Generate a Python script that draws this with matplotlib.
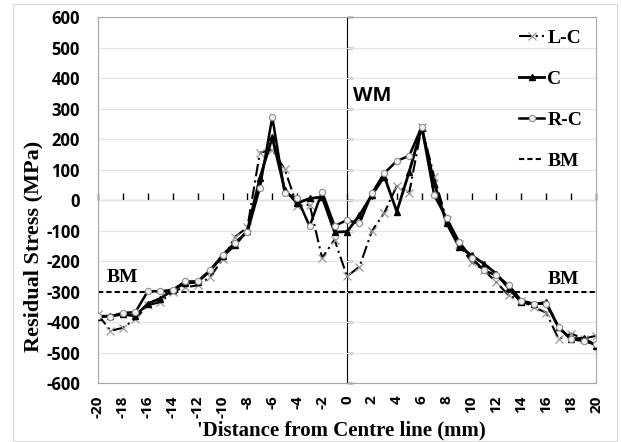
import matplotlib
matplotlib.use("Agg")
import matplotlib.pyplot as plt
from matplotlib.patches import Rectangle

# --- Data ---
distance = [-20, -19, -18, -17, -16, -15, -14, -13, -12, -11, -10, -9, -8, -7, -6, -5, -4, -3, -2, -1,
            0, 1, 2, 3, 4, 5, 6, 7, 8, 9, 10, 11, 12, 13, 14, 15, 16, 17, 18, 19, 20]

stress_lc = [-375, -429, -419, -390, -345, -335, -300, -286, -280, -253, -195, -121, -90, 155, 165, 101,
             -20, -15, -190, -130, -250, -219, -102, -42, 46, 24, 240, 77, -65, -145, -203, -230, -270,
             -313, -330, -352, -369, -456, -438, -455, -445]
stress_c = [-383, -380, -375, -380, -340, -323, -295, -272, -270, -231, -185, -148, -100, 72, 205, 33,
            -10, 5, 10, -105, -104, -50, 16, 77, -38, 93, 237, 56, -76, -153, -181, -209, -242,
            -290, -335, -341, -336, -418, -456, -453, -478]
stress_rc = [-380, -382, -370, -368, -299, -299, -295, -267, -267, -231, -181, -140, -105, 40, 272, 22,
             6, -86, 27, -85, -66, -77, 22, 88, 128, 145, 240, 16, -60, -137, -190, -231, -247,
             -280, -330, -340, -340, -418, -456, -462, -473]
bm_level = -300

x_ticks = [-20, -18, -16, -14, -12, -10, -8, -6, -4, -2, 0, 2, 4, 6, 8, 10, 12, 14, 16, 18, 20]
y_ticks = [-600, -500, -400, -300, -200, -100, 0, 100, 200, 300, 400, 500, 600]

SERIF = "Liberation Serif"
SANS = "Open Sans"

plt.rcParams["axes.unicode_minus"] = False

fig = plt.figure(figsize=(6.21, 4.42), dpi=100)
ax = fig.add_axes([98 / 621, 1 - 383 / 442, 498 / 621, 366 / 442])

# chart area border
fig.patches.append(Rectangle((13 / 621, 1 / 442), 604 / 621, 437 / 442, transform=fig.transFigure,
                             fill=False, edgecolor="#d9d9d9", linewidth=0.8))

ax.plot(distance, stress_lc, color="black", linewidth=1.5, dashes=(6, 2, 1, 2),
        marker="x", markersize=6, markeredgecolor="#9a9a9a", markeredgewidth=0.9,
        label="L-C", zorder=3)
ax.plot(distance, stress_c, color="black", linewidth=2.0,
        marker="^", markersize=5, markerfacecolor="black", markeredgecolor="black",
        label="C", zorder=4)
ax.plot(distance, stress_rc, color="black", linewidth=1.8,
        marker="o", markersize=4.5, markerfacecolor="#f2f2f2", markeredgecolor="#8c8c8c",
        markeredgewidth=0.8, label="R-C", zorder=5)
ax.axhline(bm_level, color="black", linewidth=1.5, dashes=(2.5, 1.5), label="BM", zorder=2)

ax.set_xlim(-20, 20)
ax.set_ylim(-600, 600)

# frame + labels on the outer box
for sp in ax.spines.values():
    sp.set_color("#a6a6a6")
    sp.set_linewidth(0.8)
ax.set_xticks(x_ticks)
ax.set_yticks(y_ticks)
ax.tick_params(axis="both", length=0)
ax.tick_params(axis="y", pad=13)
ax.tick_params(axis="x", pad=9, labelrotation=90)
for lab in ax.get_yticklabels():
    lab.set_fontfamily(SANS)
    lab.set_fontweight("bold")
    lab.set_fontsize(12)
for lab in ax.get_xticklabels():
    lab.set_fontfamily(SANS)
    lab.set_fontweight("bold")
    lab.set_fontsize(11)
ax.yaxis.grid(True, color="#e3e3e3", linewidth=0.8)
ax.set_axisbelow(True)

# axis lines crossing at the origin, with tick marks
sx = ax.secondary_xaxis(0.5)
sx.set_xticks(x_ticks)
sx.tick_params(direction="out", length=5, width=1, labelbottom=False, labeltop=False)
sx.spines["bottom"].set_color("black")
sx.spines["bottom"].set_linewidth(1)
sy = ax.secondary_yaxis(0.5)
sy.set_yticks(y_ticks)
sy.tick_params(direction="out", length=4, width=1, labelleft=False, labelright=False)
sy.spines["left"].set_color("black")
sy.spines["left"].set_linewidth(1)

ax.set_xlabel("'Distance from Centre line (mm)", fontfamily=SERIF, fontweight="bold", fontsize=15,
              va="center")
ax.xaxis.set_label_coords(0.489, -0.131)
ax.set_ylabel("Residual Stress (MPa)", fontfamily=SERIF, fontweight="bold", fontsize=16,
              va="center")
ax.yaxis.set_label_coords(-0.1305, 0.372)

ax.text(0.5, 340, "WM", fontfamily=SANS, fontweight="bold", fontsize=14.5, va="center", ha="left")
ax.text(-19.3, -254, "BM", fontfamily=SERIF, fontweight="bold", fontsize=14, va="center", ha="left")
ax.text(16.1, -262, "BM", fontfamily=SERIF, fontweight="bold", fontsize=14, va="center", ha="left")

leg = ax.legend(loc="upper right", bbox_to_anchor=(0.99, 0.99), frameon=False,
                prop={"family": SERIF, "weight": "bold", "size": 14},
                handlelength=1.3, handletextpad=0.15, labelspacing=1.2,
                borderpad=0.35, borderaxespad=0.1)

fig.savefig("out.png", dpi=100)
